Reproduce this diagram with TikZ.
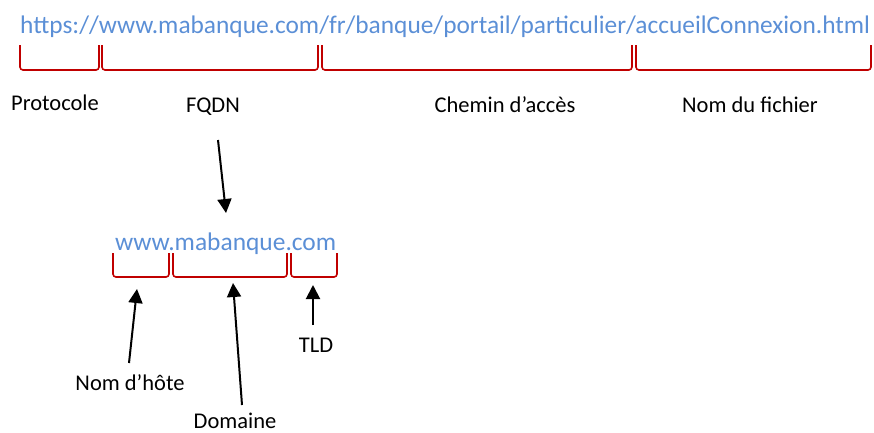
\documentclass[tikz,border=0pt]{standalone}
\usepackage{fontspec}
\usepackage{graphicx}
\setmainfont{Carlito}
\usetikzlibrary{arrows.meta}
\definecolor{urlblue}{HTML}{5B8FD6}
\definecolor{bracered}{HTML}{C00000}
\tikzset{
  urltext/.style={inner sep=0pt, text=urlblue, anchor=base west},
  lbl/.style={inner sep=0pt, anchor=base, font=\fontsize{22.5}{27}\selectfont},
  brk/.style={draw=bracered, line width=1.6pt, rounded corners=3pt},
  arr/.style={draw=black, line width=2pt, -{Triangle[width=14pt,length=14pt]}}
}
\begin{document}
\begin{tikzpicture}[x=1pt,y=-1pt]
\useasboundingbox (0,0) rectangle (874,432);
% main URL
\node[urltext, font=\fontsize{25.5}{30}\selectfont] (url) at (20,33) {\resizebox{850pt}{!}{https://www.mabanque.com/fr/banque/portail/particulier/accueilConnexion.html}};
% top braces
\draw[brk] (20,45) -- (20,70) -- (99,70) -- (99,45);
\draw[brk] (102,45) -- (102,70) -- (318,70) -- (318,45);
\draw[brk] (322,45) -- (322,70) -- (632,70) -- (632,45);
\draw[brk] (636,45) -- (636,70) -- (871,70) -- (871,45);
% top labels
\node[lbl] (proto) at (55,110) {Protocole};
\node[lbl] (fqdn) at (213,112) {FQDN};
\node[lbl] (chemin) at (505,112) {Chemin d’accès};
\node[lbl] (fichier) at (750,112) {Nom du fichier};
% FQDN arrow
\coordinate (fqdnS) at (218,140);
\coordinate (fqdnE) at (226,213);
\draw[arr] (fqdnS) -- (fqdnE);
% host
\node[urltext, font=\fontsize{25.5}{30}\selectfont] (host) at (115,250) {\resizebox{221pt}{!}{www.mabanque.com}};
\draw[brk] (113,253) -- (113,277) -- (169,277) -- (169,253);
\draw[brk] (173,253) -- (173,277) -- (287,277) -- (287,253);
\draw[brk] (291,253) -- (291,277) -- (337,277) -- (337,253);
% lower labels
\node[lbl] (hote) at (130,390) {Nom d’hôte};
\node[lbl] (domaine) at (235,428) {Domaine};
\node[lbl] (tld) at (316,352) {TLD};
\coordinate (hoteS) at (129,363);
\coordinate (hoteE) at (137,289);
\coordinate (domS) at (242,405);
\coordinate (domE) at (233,283);
\coordinate (tldS) at (313,325);
\coordinate (tldE) at (313,285);
\draw[arr] (hoteS) -- (hoteE);
\draw[arr] (domS) -- (domE);
\draw[arr] (tldS) -- (tldE);
\end{tikzpicture}
\end{document}
